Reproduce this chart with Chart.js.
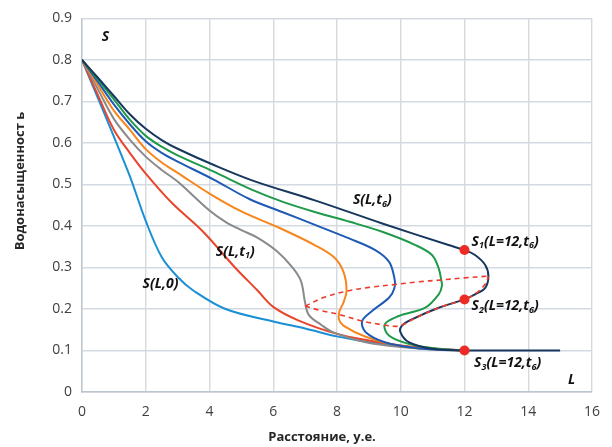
<!DOCTYPE html>
<html>
<head>
<meta charset="utf-8">
<script src="https://cdn.jsdelivr.net/npm/chart.js@4"></script>
<style>
  html, body { margin: 0; padding: 0; background: #fff; }
  #wrap { width: 612px; height: 447px; }
</style>
</head>
<body>
<div id="wrap"><canvas id="chart" width="612" height="447"></canvas></div>
<script>
// Curve data (L = distance, S = water saturation)
const xTicks = [0, 2, 4, 6, 8, 10, 12, 14, 16];
const yTicks = [0, 0.1, 0.2, 0.3, 0.4, 0.5, 0.6, 0.7, 0.8, 0.9];
const xTitle = 'Расстояние, у.е.';
const yTitle = 'Водонасыщенност ь';

// S(L,0)
const l0X = [0, 0.5, 1, 1.5, 2, 2.5, 3, 3.5, 4.5, 6, 7, 8, 9, 10, 11, 12];
const l0Y = [0.8, 0.708, 0.615, 0.52, 0.412, 0.325, 0.277, 0.244, 0.2, 0.17, 0.153, 0.134, 0.12, 0.11, 0.104, 0.1];

// S(L,t1)
const t1X = [0, 0.5, 1, 1.5, 2, 2.8, 3.8, 4.8, 5.5, 6, 6.8, 8, 9, 10, 11, 12];
const t1Y = [0.8, 0.715, 0.632, 0.576, 0.526, 0.457, 0.386, 0.3, 0.245, 0.205, 0.172, 0.14, 0.124, 0.112, 0.105, 0.1];

// S(L,t2)
const t2X = [0, 0.5, 1, 1.5, 2, 2.5, 3, 4, 4.5, 5, 5.5, 6.1, 6.6, 6.87, 7.0, 7.12, 7.5, 7.85, 8.9, 10.2, 11, 12];
const t2Y = [0.8, 0.729, 0.658, 0.608, 0.567, 0.535, 0.507, 0.437, 0.41, 0.39, 0.372, 0.34, 0.3, 0.267, 0.215, 0.185, 0.162, 0.145, 0.12, 0.107, 0.103, 0.1];

// S(L,t3)
const t3X = [0, 0.5, 1, 1.5, 2, 2.5, 3, 4, 5, 6.2, 7.3, 7.9, 8.2, 8.3, 8.2, 8.08, 8.06, 8.2, 8.9, 9.9, 11, 12];
const t3Y = [0.8, 0.739, 0.678, 0.632, 0.585, 0.553, 0.528, 0.478, 0.435, 0.395, 0.354, 0.325, 0.29, 0.245, 0.215, 0.195, 0.175, 0.16, 0.133, 0.112, 0.103, 0.1];

// S(L,t4)
const t4X = [0, 0.5, 1, 1.5, 2, 2.5, 3, 4.1, 5.25, 6.3, 7.33, 8.38, 9.2, 9.63, 9.8, 9.8, 9.63, 9.1, 8.79, 8.9, 9.5, 10.46, 11.2, 12];
const t4Y = [0.8, 0.747, 0.693, 0.645, 0.604, 0.576, 0.555, 0.513, 0.465, 0.433, 0.402, 0.37, 0.342, 0.314, 0.275, 0.25, 0.227, 0.195, 0.171, 0.144, 0.12, 0.106, 0.102, 0.1];

// S(L,t5)
const t5X = [0, 0.5, 1, 1.5, 2, 2.5, 3, 4.1, 5.4, 6.3, 7.33, 8.4, 9.42, 10.46, 10.98, 11.19, 11.27, 11.29, 11.19, 10.77, 9.94, 9.5, 9.63, 10.25, 11.2, 12];
const t5Y = [0.8, 0.753, 0.705, 0.656, 0.617, 0.591, 0.57, 0.532, 0.485, 0.458, 0.433, 0.41, 0.386, 0.354, 0.33, 0.298, 0.27, 0.255, 0.235, 0.203, 0.183, 0.163, 0.136, 0.116, 0.104, 0.1];

// S(L,t6)
const t6X = [0, 0.5, 1, 1.5, 2, 2.5, 3, 4.1, 5.4, 7.33, 9.42, 11.5, 12, 12.33, 12.65, 12.75, 12.65, 12.33, 12, 11.19, 10.35, 10.04, 9.99, 10.25, 10.98, 12, 13, 14, 15];
const t6Y = [0.8, 0.757, 0.713, 0.669, 0.634, 0.607, 0.586, 0.548, 0.508, 0.461, 0.406, 0.354, 0.342, 0.33, 0.306, 0.279, 0.251, 0.235, 0.223, 0.203, 0.175, 0.16, 0.144, 0.12, 0.104, 0.1, 0.1, 0.1, 0.1];

// turning-point loci (dashed)
const upperX = [7.0, 7.6, 8.31, 9.0, 9.83, 10.5, 11.29, 12.0, 12.75];
const upperY = [0.207, 0.228, 0.243, 0.252, 0.259, 0.265, 0.27, 0.275, 0.279];
const lowerX = [7.0, 7.5, 8.06, 8.79, 9.42, 9.85, 10.1, 10.4, 11.19, 12.0, 12.4, 12.65, 12.75];
const lowerY = [0.207, 0.196, 0.187, 0.171, 0.162, 0.158, 0.163, 0.176, 0.203, 0.223, 0.24, 0.26, 0.278];

// S1, S2, S3 at L = 12
const markX = [12, 12, 12];
const markY = [0.342, 0.223, 0.1];

const pts = (xs, ys) => xs.map((x, i) => ({ x: x, y: ys[i] }));

function curve(xs, ys, color) {
    return {
        data: pts(xs, ys),
        showLine: true,
        borderColor: color,
        borderWidth: 2,
        pointRadius: 0,
        tension: 0.35
    };
}

const FONT = '"Open Sans", "Noto Sans", sans-serif';

// text labels inside the plot + axis titles
const labelsPlugin = {
    id: 'labels',
    afterDatasetsDraw(chart) {
        const ctx = chart.ctx;
        const xs = chart.scales.x, ys = chart.scales.y;
        const items = [
            [0.62, 0.855, [['S', 0]]],
            [1.9, 0.26, [['S(L,0)', 0]]],
            [4.2, 0.338, [['S(L,t', 0], ['1', 1], [')', 0]]],
            [8.5, 0.462, [['S(L,t', 0], ['6', 1], [')', 0]]],
            [12.22, 0.362, [['S', 0], ['1', 1], ['(L=12,t', 0], ['6', 1], [')', 0]]],
            [12.22, 0.207, [['S', 0], ['2', 1], ['(L=12,t', 0], ['6', 1], [')', 0]]],
            [12.3, 0.069, [['S', 0], ['3', 1], ['(L=12,t', 0], ['6', 1], [')', 0]]],
            [15.25, 0.03, [['L', 0]]]
        ];
        ctx.save();
        ctx.fillStyle = '#111';
        ctx.textBaseline = 'middle';
        ctx.textAlign = 'left';
        items.forEach(([lx, ly, parts]) => {
            let cx = xs.getPixelForValue(lx);
            const cy = ys.getPixelForValue(ly);
            parts.forEach(([t, sub]) => {
                ctx.font = sub ? 'italic bold 9px ' + FONT : 'italic bold 14px ' + FONT;
                ctx.fillText(t, cx, sub ? cy + 4 : cy);
                cx += ctx.measureText(t).width;
            });
        });

        // axis titles (placed as in the source, a bit left / above centre)
        ctx.fillStyle = '#262626';
        ctx.font = 'bold 13px ' + FONT;
        ctx.textAlign = 'center';
        ctx.fillText(xTitle, 322, 437);
        ctx.translate(20.5, 181);
        ctx.rotate(-Math.PI / 2);
        ctx.fillText(yTitle, 0, 0);
        ctx.restore();
    }
};

new Chart(document.getElementById('chart'), {
    type: 'scatter',
    data: {
        datasets: [
            {
                data: pts(markX, markY),
                pointRadius: 5,
                pointBackgroundColor: '#ee2a24',
                pointBorderWidth: 0,
                showLine: false
            },
            Object.assign(curve(upperX, upperY, '#ef3b2c'), { borderDash: [5, 4], borderWidth: 1.6 }),
            Object.assign(curve(lowerX, lowerY, '#ef3b2c'), { borderDash: [5, 4], borderWidth: 1.6 }),
            curve(t6X, t6Y, '#17375e'),
            curve(t5X, t5Y, '#1f9a4a'),
            curve(t4X, t4Y, '#1f5bb5'),
            curve(t3X, t3Y, '#f7861d'),
            curve(t2X, t2Y, '#8a8a8a'),
            curve(t1X, t1Y, '#e9452c'),
            curve(l0X, l0Y, '#1b8fd4')
        ]
    },
    options: {
        responsive: false,
        animation: false,
        layout: { padding: { top: 14, right: 16, left: 0, bottom: 0 } },
        plugins: {
            legend: { display: false },
            tooltip: { enabled: false }
        },
        scales: {
            x: {
                type: 'linear',
                min: 0,
                max: 16,
                afterBuildTicks: s => { s.ticks = xTicks.map(v => ({ value: v })); },
                afterFit: s => { s.height = 55; },
                grid: { color: '#d3dae1', lineWidth: 1.4, drawTicks: false },
                border: { color: '#bcc4cc', width: 1.4 },
                ticks: { color: '#404040', font: { family: FONT, size: 14 }, padding: 12 }
            },
            y: {
                type: 'linear',
                min: 0,
                max: 0.9,
                afterBuildTicks: s => { s.ticks = yTicks.map(v => ({ value: v })); },
                afterFit: s => { s.width = 82; },
                grid: { color: '#d3dae1', lineWidth: 1.4, drawTicks: false },
                border: { color: '#bcc4cc', width: 1.4 },
                ticks: {
                    color: '#404040',
                    font: { family: FONT, size: 14 },
                    padding: 10,
                    callback: v => String(Math.round(v * 10) / 10)
                }
            }
        }
    },
    plugins: [labelsPlugin]
});
</script>
</body>
</html>
